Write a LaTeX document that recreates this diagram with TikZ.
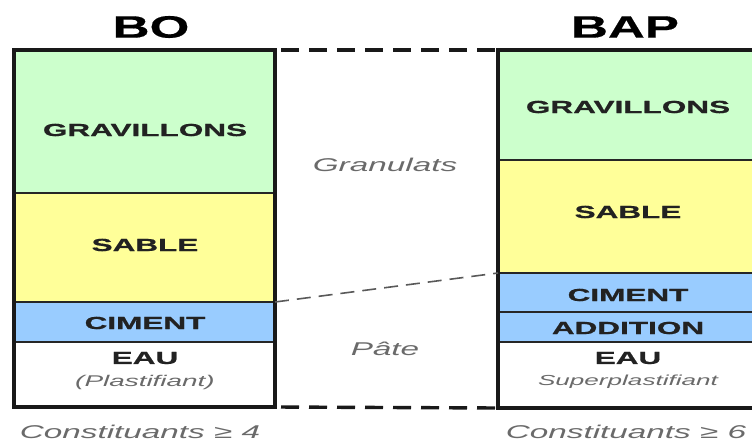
\documentclass[tikz,border=0pt]{standalone}
\usepackage{fontspec}
\setmainfont{Liberation Sans}
\newfontfamily\labfont[FakeStretch=1.8, BoldFeatures={FakeBold=0.8}]{Liberation Sans}
\newfontfamily\titlefont[FakeStretch=1.65, BoldFeatures={FakeBold=0.5}]{Liberation Sans}
\definecolor{grav}{HTML}{CCFFCC}
\definecolor{sab}{HTML}{FFFF99}
\definecolor{cim}{HTML}{99CCFF}
\definecolor{labtxt}{HTML}{222222}
\definecolor{ittxt}{HTML}{6A6A6A}
\tikzset{
  cell/.style={draw=black!85, line width=1.8pt, rectangle, anchor=north west, inner sep=0pt, outer sep=0pt},
  lab/.style={inner sep=0pt, align=center, text=labtxt, font=\labfont\bfseries\fontsize{17.5}{21}\selectfont},
  itlab/.style={text=ittxt, inner sep=0pt, font=\labfont\itshape\fontsize{18.5}{22}\selectfont},
  subit/.style={inner sep=0pt, text=ittxt, font=\labfont\itshape\fontsize{15.5}{19}\selectfont},
  titlelab/.style={inner sep=0pt, font=\titlefont\bfseries\fontsize{31}{36}\selectfont},
  dashbig/.style={line width=3.4pt, dash pattern=on 18pt off 10pt, dash phase=-6pt, black!90},
  dashmid/.style={line width=1.6pt, dash pattern=on 14pt off 8pt, black!65},
  outline/.style={draw=black!90, line width=3.2pt}
}
\begin{document}
\begin{tikzpicture}[x=1pt,y=-1pt]
\useasboundingbox (0,0) rectangle (752,441);
\clip (0,0) rectangle (752,441);
% BO column
\node[cell, fill=grav, minimum width=261pt, minimum height=143pt] (bog) at (14,50) {};
\node[cell, fill=sab, minimum width=261pt, minimum height=109pt] (bos) at (14,193) {};
\node[cell, fill=cim, minimum width=261pt, minimum height=40pt] (boc) at (14,302) {};
\node[cell, fill=white, minimum width=261pt, minimum height=65pt] (boe) at (14,342) {};
\draw[outline] (bog.north west) rectangle (boe.south east);
% BAP column
\node[cell, fill=grav, minimum width=262pt, minimum height=110pt] (bapg) at (498,50) {};
\node[cell, fill=sab, minimum width=262pt, minimum height=113pt] (baps) at (498,160) {};
\node[cell, fill=cim, minimum width=262pt, minimum height=39pt] (bapc) at (498,273) {};
\node[cell, fill=cim, minimum width=262pt, minimum height=30pt] (bapa) at (498,312) {};
\node[cell, fill=white, minimum width=262pt, minimum height=66pt] (bape) at (498,342) {};
\draw[outline] (bapg.north west) rectangle (bape.south east);
% cell labels
\node[lab] (tbog) at (145,130) {GRAVILLONS};
\node[lab] (tbos) at (145,245) {SABLE};
\node[lab] (tboc) at (145,323) {CIMENT};
\node[lab] (tboe) at (145,358) {EAU};
\node[subit] (tbop) at (145,382) {(Plastifiant)};
\node[lab] (tbapg) at (628,107) {GRAVILLONS};
\node[lab] (tbaps) at (628,212) {SABLE};
\node[lab] (tbapc) at (628,295) {CIMENT};
\node[lab] (tbapa) at (628,328) {ADDITION};
\node[lab] (tbape) at (628,358) {EAU};
\node[subit, font=\labfont\itshape\fontsize{14.5}{18}\selectfont] (tbapp) at (628,382) {Superplastifiant};
% titles
\node[titlelab] (tbo) at (151,27) {BO};
\node[titlelab] (tbap) at (625,27) {BAP};
% connectors
\draw[dashbig] (bog.north east) -- (bapg.north west);
\draw[dashbig] (boe.south east) -- (bape.south west);
\draw[dashmid] (bos.south east) -- (baps.south west);
% middle labels
\node[itlab] (gran) at (385,165) {Granulats};
\node[itlab] (pate) at (385,349) {Pâte};
% bottom labels
\node[itlab] (c4) at (140,432) {Constituants ≥ 4};
\node[itlab] (c6) at (626,432) {Constituants ≥ 6};
\end{tikzpicture}
\end{document}
